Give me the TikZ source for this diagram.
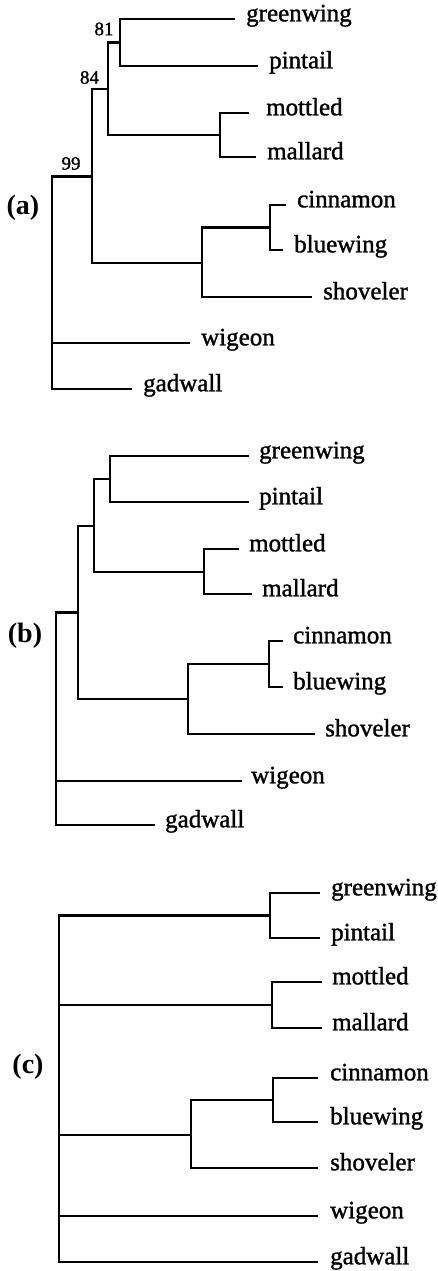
\documentclass[tikz,border=0pt]{standalone}
\usepackage{fontspec}
\setmainfont{Liberation Serif}
\newfontfamily\heavyserif[FakeBold=1.3]{Liberation Serif}
\begin{document}
\begin{tikzpicture}[x=1pt,y=-1pt,
  br/.style={line width=2.9pt, line join=miter},
  leaf/.style={anchor=west, inner xsep=11pt, inner ysep=0pt, text height=0.68em, text depth=0.22em, font=\heavyserif\fontsize{25}{30}\selectfont},
  boot/.style={font=\heavyserif\fontsize{19}{22}\selectfont, inner sep=0pt},
  panel/.style={font=\bfseries\fontsize{28}{32}\selectfont, inner sep=0pt}]
\useasboundingbox (0,0) rectangle (437,1271);

% ---------- (a) ----------
\node[panel] (pa) at (23,208) {(a)};
\node[leaf] (agw) at (235,19) {greenwing};
\node[leaf] (apt) at (258,66) {pintail};
\node[leaf,inner xsep=17pt] (amo) at (249,113) {mottled};
\node[leaf] (ama) at (256,157) {mallard};
\node[leaf] (aci) at (286,205) {cinnamon};
\node[leaf] (abl) at (283,250) {bluewing};
\node[leaf] (ash) at (312,297) {shoveler};
\node[leaf] (awi) at (190,343) {wigeon};
\node[leaf] (aga) at (132,389) {gadwall};
\coordinate (a81) at (120,42.5);
\coordinate (amm) at (220,135);
\coordinate (a84) at (108,89);
\coordinate (acb) at (270,227.5);
\coordinate (acbs) at (202,263);
\coordinate (a99) at (92,176.5);
\coordinate (aroot) at (52,283);
\draw[br] (a81) |- (agw.west);
\draw[br] (a81) |- (apt.west);
\draw[br] (amm) |- (amo.west);
\draw[br] (amm) |- (ama.west);
\draw[br] (a84) |- (a81);
\draw[br] (a84) |- (amm);
\draw[br] (acb) |- (aci.west);
\draw[br] (acb) |- (abl.west);
\draw[br] (acbs) |- (acb);
\draw[br] (acbs) |- (ash.west);
\draw[br] (a99) |- (a84);
\draw[br] (a99) |- (acbs);
\draw[br] (aroot) |- (a99);
\draw[br] (aroot) |- (awi.west);
\draw[br] (aroot) |- (aga.west);
\node[boot] (b81) at (104,29) {81};
\node[boot] (b84) at (89.5,77.5) {84};
\node[boot] (b99) at (71,163.5) {99};

% ---------- (b) ----------
\node[panel] (pb) at (25,636) {(b)};
\node[leaf,inner xsep=10pt] (bgw) at (249,456) {greenwing};
\node[leaf,inner xsep=10pt] (bpt) at (249,502) {pintail};
\node[leaf,inner xsep=10pt] (bmo) at (239,549) {mottled};
\node[leaf,inner xsep=10pt] (bma) at (252,594) {mallard};
\node[leaf,inner xsep=10pt] (bci) at (283,641) {cinnamon};
\node[leaf,inner xsep=10pt] (bbl) at (283,687) {bluewing};
\node[leaf,inner xsep=10pt] (bsh) at (315,734) {shoveler};
\node[leaf,inner xsep=9pt] (bwi) at (242,781) {wigeon};
\node[leaf,inner xsep=10pt] (bga) at (155,825) {gadwall};
\coordinate (bA) at (110,479);
\coordinate (bB) at (204,572);
\coordinate (bC) at (94,526);
\coordinate (bD) at (269,664);
\coordinate (bE) at (188,699);
\coordinate (bF) at (78,612.5);
\coordinate (broot) at (56,719);
\draw[br] (bA) |- (bgw.west);
\draw[br] (bA) |- (bpt.west);
\draw[br] (bB) |- (bmo.west);
\draw[br] (bB) |- (bma.west);
\draw[br] (bC) |- (bA);
\draw[br] (bC) |- (bB);
\draw[br] (bD) |- (bci.west);
\draw[br] (bD) |- (bbl.west);
\draw[br] (bE) |- (bD);
\draw[br] (bE) |- (bsh.west);
\draw[br] (bF) |- (bC);
\draw[br] (bF) |- (bE);
\draw[br] (broot) |- (bF);
\draw[br] (broot) |- (bwi.west);
\draw[br] (broot) |- (bga.west);

% ---------- (c) ----------
\node[panel] (pc) at (28,1067) {(c)};
\node[leaf] (cgw) at (320,893) {greenwing};
\node[leaf] (cpt) at (320,938) {pintail};
\node[leaf,inner xsep=10pt] (cmo) at (322,982) {mottled};
\node[leaf,inner xsep=10pt] (cma) at (322,1028) {mallard};
\node[leaf,inner xsep=12pt] (cci) at (318,1078) {cinnamon};
\node[leaf,inner xsep=12pt] (cbl) at (318,1122) {bluewing};
\node[leaf,inner xsep=12pt] (csh) at (318,1168) {shoveler};
\node[leaf,inner xsep=12pt] (cwi) at (318,1216) {wigeon};
\node[leaf,inner xsep=12pt] (cga) at (318,1262) {gadwall};
\coordinate (cA) at (270,915.5);
\coordinate (cB) at (272,1005);
\coordinate (cD) at (273,1100);
\coordinate (cE) at (191,1135);
\coordinate (croot) at (59,1090);
\draw[br] (cA) |- (cgw.west);
\draw[br] (cA) |- (cpt.west);
\draw[br] (cB) |- (cmo.west);
\draw[br] (cB) |- (cma.west);
\draw[br] (cD) |- (cci.west);
\draw[br] (cD) |- (cbl.west);
\draw[br] (cE) |- (cD);
\draw[br] (cE) |- (csh.west);
\draw[br] (croot) |- (cA);
\draw[br] (croot) |- (cB);
\draw[br] (croot) |- (cE);
\draw[br] (croot) |- (cwi.west);
\draw[br] (croot) |- (cga.west);
\end{tikzpicture}
\end{document}
